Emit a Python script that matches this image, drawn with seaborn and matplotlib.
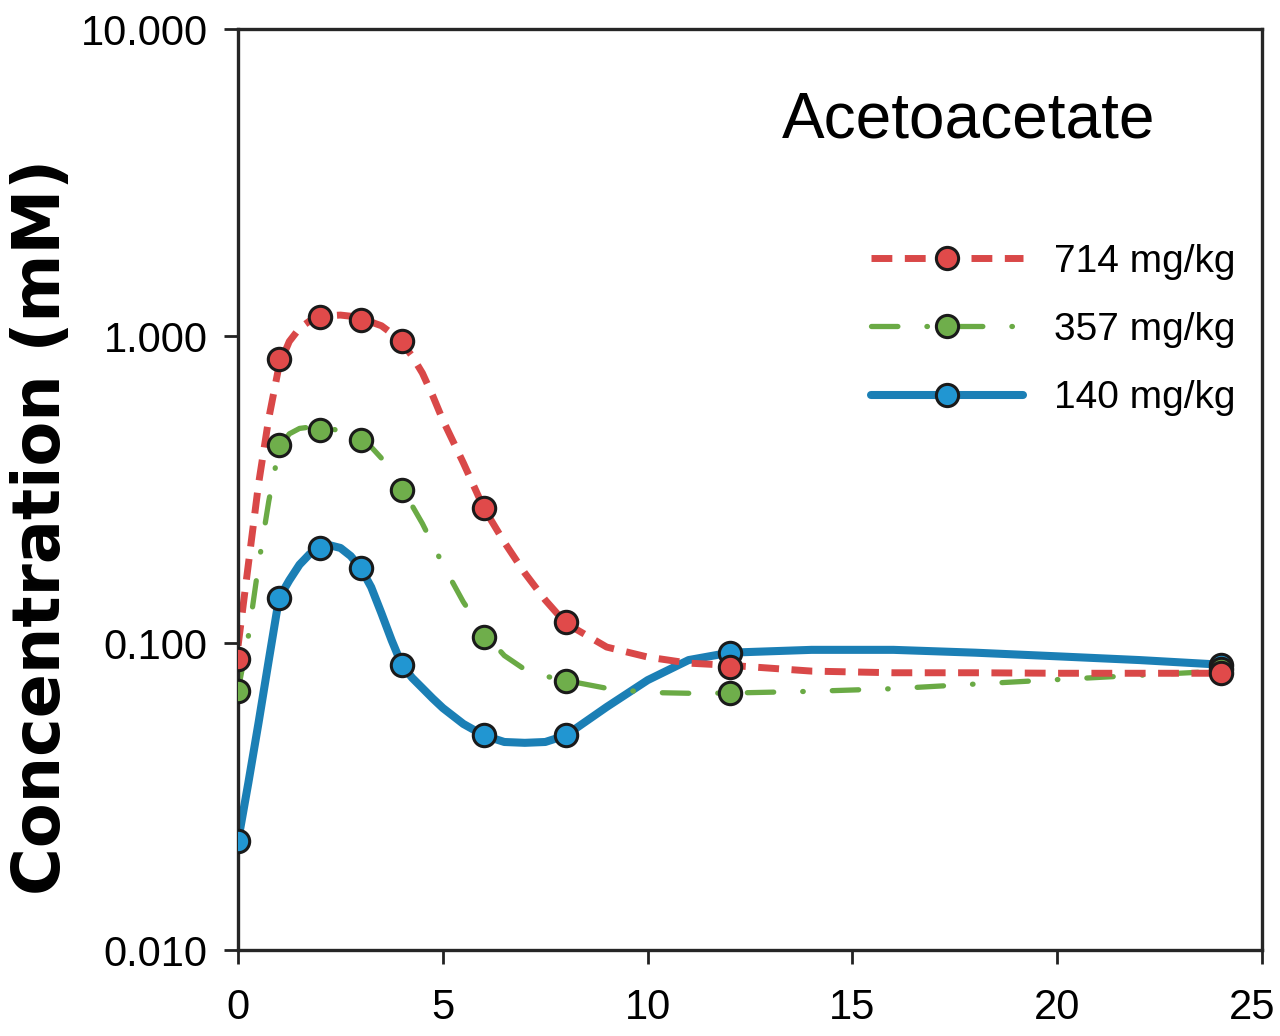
import numpy as np
import pandas as pd
import seaborn as sns
import matplotlib.pyplot as plt
import matplotlib.transforms as mtransforms
from matplotlib import font_manager
from matplotlib.lines import Line2D
from matplotlib.ticker import NullLocator

# measured points (time in h, concentration in mM)
times = [0, 1, 2, 3, 4, 6, 8, 12, 24]
aa_714 = [0.089, 0.84, 1.15, 1.13, 0.96, 0.275, 0.117, 0.0835, 0.080]
aa_357 = [0.070, 0.44, 0.494, 0.46, 0.315, 0.105, 0.0752, 0.0687, 0.082]
aa_140 = [0.0227, 0.140, 0.204, 0.175, 0.0848, 0.050, 0.050, 0.093, 0.085]

# fitted curves
fit_t = [0, 0.25, 0.5, 0.75, 1, 1.25, 1.5, 1.75, 2, 2.25, 2.5, 2.75, 3, 3.25,
         3.5, 3.75, 4, 4.25, 4.5, 4.75, 5, 5.5, 6, 6.5, 7, 7.5, 8, 9, 10, 11,
         12, 14, 16, 18, 20, 22, 24]
fit_714 = [0.098, 0.18, 0.33, 0.54, 0.80, 0.96, 1.06, 1.12, 1.15, 1.165, 1.17,
           1.16, 1.13, 1.11, 1.08, 1.02, 0.95, 0.86, 0.757, 0.64, 0.532, 0.386,
           0.275, 0.213, 0.169, 0.138, 0.116, 0.097, 0.090, 0.086, 0.0846,
           0.081, 0.080, 0.080, 0.0797, 0.0797, 0.0797]
fit_357 = [0.070, 0.105, 0.18, 0.29, 0.43, 0.48, 0.50, 0.505, 0.50, 0.50, 0.49,
           0.48, 0.46, 0.435, 0.40, 0.36, 0.32, 0.28, 0.245, 0.21, 0.18, 0.136,
           0.108, 0.091, 0.082, 0.078, 0.0755, 0.0712, 0.0690, 0.0686, 0.0687,
           0.0696, 0.071, 0.0735, 0.076, 0.0785, 0.081]
fit_140 = [0.0227, 0.035, 0.055, 0.088, 0.140, 0.160, 0.180, 0.195, 0.204,
           0.208, 0.204, 0.192, 0.175, 0.152, 0.125, 0.102, 0.0848, 0.077,
           0.0713, 0.066, 0.0614, 0.0545, 0.050, 0.0476, 0.0473, 0.0476, 0.050,
           0.0619, 0.0757, 0.088, 0.093, 0.095, 0.095, 0.093, 0.0905, 0.088,
           0.085]

doses = ["714 mg/kg", "357 mg/kg", "140 mg/kg"]
ytick_vals = [0.01, 0.1, 1, 10]
ytick_labels = ["0.010", "0.100", "1.000", "10.000"]
xtick_vals = [0, 5, 10, 15, 20, 25]

sns.set_style("ticks")
names = {f.name for f in font_manager.fontManager.ttflist}
narrow = "Liberation Sans Narrow" in names
txt_font = "Liberation Sans Narrow" if narrow else "Liberation Sans"
plt.rcParams["font.family"] = [txt_font, "DejaVu Sans"]
plt.rcParams["text.color"] = "black"
plt.rcParams["axes.labelcolor"] = "black"
tick_size = 34 if narrow else 30
leg_size = 31 if narrow else 28
title_size = 52 if narrow else 46

fig, ax = plt.subplots(figsize=(12.8, 10.36), dpi=100)
fig.subplots_adjust(left=0.186, right=0.986, bottom=0.083, top=0.972)

edge = "#1a1a1a"
# curve, points, line colour, marker face, linestyle, linewidth, capstyle
series = {
    "140 mg/kg": (fit_140, aa_140, "#1b7fb5", "#2196d2", "-", 5.8, "round"),
    "357 mg/kg": (fit_357, aa_357, "#6aaa45", "#6fae4b", (0, (5, 5.5, 0.1, 5.5)), 3.8, "round"),
    "714 mg/kg": (fit_714, aa_714, "#d94848", "#e04a4a", (0, (3, 1.8)), 5.0, "butt"),
}

for name, (fit, pts, lc, fc, ls, lw, cap) in series.items():
    sns.lineplot(x=fit_t, y=fit, ax=ax, color=lc, linestyle=ls, linewidth=lw,
                 dash_capstyle=cap, solid_capstyle="round",
                 solid_joinstyle="round", estimator=None, sort=False,
                 legend=False, zorder=2)

for name, (fit, pts, lc, fc, ls, lw, cap) in series.items():
    sns.scatterplot(x=times, y=pts, ax=ax, color=fc, edgecolor=edge,
                    linewidth=2.2, s=260, zorder=4, legend=False)

ax.set_yscale("log")
ax.set_ylim(0.01, 10)
ax.set_yticks(ytick_vals)
ax.set_yticklabels(ytick_labels)
ax.yaxis.set_minor_locator(NullLocator())
ax.set_xlim(0, 25)
ax.set_xticks(xtick_vals)
ax.tick_params(axis="both", direction="out", length=10, width=2,
               color="#222222", labelcolor="black", labelsize=tick_size, pad=12)
ax.tick_params(axis="x", pad=17)
for sp in ax.spines.values():
    sp.set_linewidth(2.4)
    sp.set_color("#262626")

# the last x label sits a little left of its tick, as in the original
last = ax.get_xticklabels()[-1]
last.set_transform(last.get_transform() +
                   mtransforms.ScaledTranslation(-10 / 100, 0, fig.dpi_scale_trans))

ax.set_ylabel("Concentration (mM)", fontsize=47, fontweight="bold",
              family="DejaVu Sans")
ax.yaxis.set_label_coords(-0.16, 0.459)

ax.text(0.713, 0.901, "Acetoacetate", transform=ax.transAxes,
        ha="center", va="center", fontsize=title_size)

handles = []
for name in doses:
    fit, pts, lc, fc, ls, lw, cap = series[name]
    handles.append(Line2D([], [], color=lc, linestyle=ls, linewidth=lw,
                          dash_capstyle=cap, marker="o", markersize=16,
                          markerfacecolor=fc, markeredgecolor=edge,
                          markeredgewidth=2.2))
ax.legend(handles, doses, loc="upper left", bbox_to_anchor=(0.618, 0.767),
          frameon=False, handlelength=3.9, handletextpad=0.8,
          labelspacing=0.83, borderpad=0, borderaxespad=0, numpoints=1,
          prop={"size": leg_size})

fig.savefig("out.png", dpi=100)
